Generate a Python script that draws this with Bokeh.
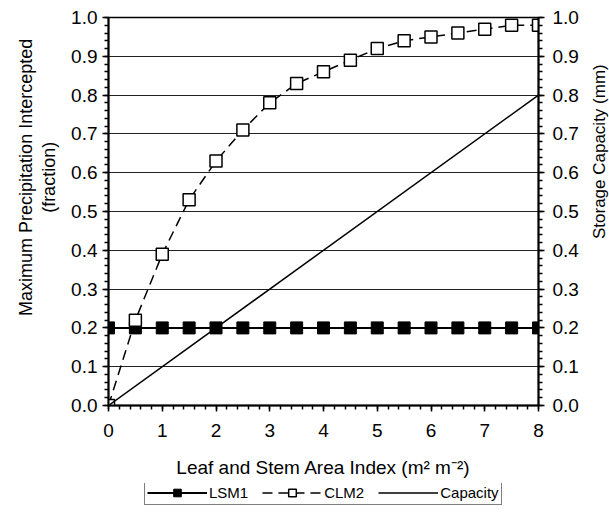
import math
from bokeh.plotting import figure
from bokeh.layouts import row, column
from bokeh.models import (Range1d, LinearAxis, Legend, LegendItem, SingleIntervalTicker,
                          ColumnDataSource, NumeralTickFormatter)
from bokeh.core.properties import value
from bokeh.embed import file_html
from bokeh.resources import INLINE

# ---- data ----
lai = [0, 0.5, 1, 1.5, 2, 2.5, 3, 3.5, 4, 4.5, 5, 5.5, 6, 6.5, 7, 7.5, 8]
lsm1 = [0.2, 0.2, 0.2, 0.2, 0.2, 0.2, 0.2, 0.2, 0.2, 0.2, 0.2, 0.2, 0.2, 0.2, 0.2, 0.2, 0.2]
clm2 = [0.00, 0.22, 0.39, 0.53, 0.63, 0.71, 0.78, 0.83, 0.86, 0.89, 0.92, 0.94, 0.95,
        0.96, 0.97, 0.98, 0.98]
cap_x = [0, 8]
cap_y = [0.0, 0.8]

series_names = ["LSM1", "CLM2", "Capacity"]
x_title = "Leaf and Stem Area Index (m\u00b2 m\u207b\u00b2)"
y_title_lines = ["Maximum Precipitation Intercepted", "(fraction)"]
y2_title = "Storage Capacity (mm)"

FONT = "Liberation Sans"
H = 483  # height of main row

# ---- main plot ----
p = figure(frame_width=430, frame_height=388, output_backend="svg", toolbar_location=None,
           x_range=Range1d(0, 8), y_range=Range1d(0, 1.0),
           min_border_left=40, min_border_right=52, min_border_top=17,
           min_border_bottom=78)
p.extra_y_ranges = {"cap": Range1d(0, 1.0)}

p.outline_line_color = "black"
p.outline_line_width = 1.5
p.xgrid.visible = False
p.ygrid.grid_line_color = "#222222"
p.ygrid.grid_line_width = 1
p.ygrid.ticker = SingleIntervalTicker(interval=0.1)

src_l = ColumnDataSource(dict(x=lai, y=lsm1))
src_c = ColumnDataSource(dict(x=lai, y=clm2))
src_k = ColumnDataSource(dict(x=cap_x, y=cap_y))


def draw_series(fig, **kw):
    a = fig.line("x", "y", source=src_l, line_color="black", line_width=2, **kw)
    b = fig.scatter("x", "y", source=src_l, marker="square", size=12,
                    fill_color="black", line_color="black", **kw)
    c = fig.line("x", "y", source=src_c, line_color="black", line_width=1.5,
                 line_dash="10 6", **kw)
    d = fig.scatter("x", "y", source=src_c, marker="square", size=12,
                    fill_color="white", line_color="black", line_width=1.5, **kw)
    return a, b, c, d


draw_series(p)
p.line("x", "y", source=src_k, line_color="black", line_width=1.5, y_range_name="cap")


def style_axis(ax):
    ax.axis_line_color = "black"
    ax.axis_line_width = 2
    ax.major_tick_line_color = "black"
    ax.minor_tick_line_color = "black"
    ax.major_tick_line_width = 1.5
    ax.minor_tick_line_width = 1.5
    ax.major_tick_out = 6
    ax.major_tick_in = 0
    ax.minor_tick_out = 4
    ax.minor_tick_in = 0
    ax.major_label_text_font = FONT
    ax.major_label_text_font_size = "19px"
    ax.major_label_text_color = "black"
    ax.axis_label_text_font = FONT
    ax.axis_label_text_font_size = "19px"
    ax.axis_label_text_font_style = "normal"
    ax.axis_label_text_color = "black"


xa = p.xaxis[0]
xa.ticker = SingleIntervalTicker(interval=1, num_minor_ticks=5)
xa.axis_label = x_title
style_axis(xa)
xa.major_label_standoff = 12
xa.axis_label_standoff = 17

ya = p.yaxis[0]
ya.ticker = SingleIntervalTicker(interval=0.1, num_minor_ticks=5)
ya.formatter = NumeralTickFormatter(format="0.0")
style_axis(ya)
ya.major_label_standoff = 5

ra = LinearAxis(y_range_name="cap",
                ticker=SingleIntervalTicker(interval=0.1, num_minor_ticks=5),
                formatter=NumeralTickFormatter(format="0.0"))
style_axis(ra)
ra.major_label_standoff = 8
p.add_layout(ra, "right")


def blank(fig):
    fig.outline_line_color = None
    fig.xgrid.visible = False
    fig.ygrid.visible = False
    fig.min_border_left = fig.min_border_right = 0
    fig.min_border_top = fig.min_border_bottom = 0
    fig.background_fill_color = None
    fig.border_fill_color = None


# ---- left title (two lines, reading upward) ----
pL = figure(width=68, height=H, output_backend="svg", toolbar_location=None,
            x_range=Range1d(0, 68), y_range=Range1d(0, H),
            x_axis_type=None, y_axis_type=None)
blank(pL)
pL.text(x=[25, 48], y=[H - 199, H - 199], text=y_title_lines, angle=math.pi / 2,
        text_align="center", text_baseline="middle", text_font=value(FONT),
        text_font_size="18px", text_color="black")

# ---- right title (reading upward) ----
pR = figure(width=19, height=H, output_backend="svg", toolbar_location=None,
            x_range=Range1d(0, 19), y_range=Range1d(0, H),
            x_axis_type=None, y_axis_type=None)
blank(pR)
pR.text(x=[9], y=[H - 167], text=[y2_title], angle=math.pi / 2,
        text_align="center", text_baseline="middle", text_font=value(FONT),
        text_font_size="17px", text_color="black")

# ---- legend strip ----
p2 = figure(width=609, height=35, output_backend="svg", toolbar_location=None,
            x_range=Range1d(100, 101), y_range=Range1d(100, 101),
            x_axis_type=None, y_axis_type=None)
blank(p2)
l_a, l_b, l_c, l_d = draw_series(p2)
l_k = p2.line("x", "y", source=src_k, line_color="black", line_width=1.5)

legend = Legend(items=[
    LegendItem(label=series_names[0], renderers=[l_a, l_b]),
    LegendItem(label=series_names[1], renderers=[l_c, l_d]),
    LegendItem(label=series_names[2], renderers=[l_k]),
], orientation="horizontal", location=(144, 13))
legend.label_text_font = FONT
legend.label_text_font_size = "15px"
legend.label_text_color = "black"
legend.glyph_width = 60
legend.glyph_height = 19
legend.label_height = 19
legend.label_standoff = 2
legend.spacing = 14
legend.padding = 2
legend.margin = 0
legend.border_line_color = "black"
legend.border_line_width = 1.5
legend.background_fill_alpha = 1
p2.add_layout(legend, "center")

layout = column(row(pL, p, pR, spacing=0), p2, spacing=0)

open("out.html", "w").write(file_html(layout, INLINE))
